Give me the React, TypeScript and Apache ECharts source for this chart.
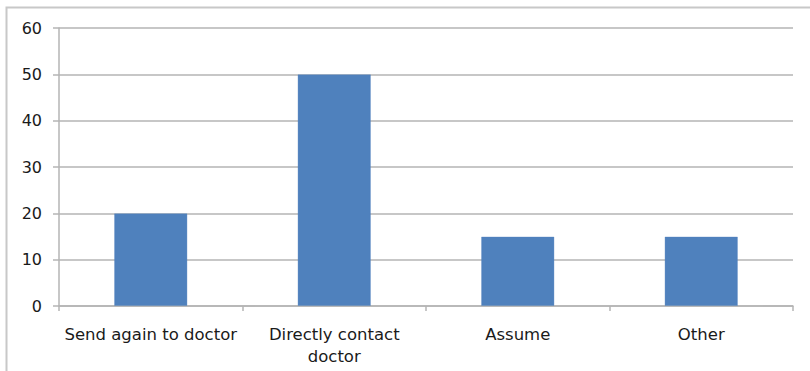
import React, { useEffect, useRef } from "react";
import * as echarts from "echarts";

// Responses per category
const categories: string[] = [
  "Send again to doctor",
  "Directly contact\ndoctor",
  "Assume",
  "Other",
];
const counts: number[] = [20, 50, 15, 15];

// Value axis range
const yMin = 0;
const yMax = 60;
const yStep = 10;

const FONT = "'DejaVu Sans', sans-serif";
const AXIS_GRAY = "#b4b4b4";

export default function App() {
  const ref = useRef<HTMLDivElement>(null);

  useEffect(() => {
    if (!ref.current) return;
    const chart = echarts.init(ref.current, null, { renderer: "svg" });
    chart.setOption({
      animation: false,
      backgroundColor: "#ffffff",
      graphic: [
        {
          type: "rect",
          shape: { x: 6.5, y: 7.5, width: 830, height: 400 },
          style: { fill: "none", stroke: "#c8c8c8", lineWidth: 2 },
          silent: true,
        },
      ],
      grid: { left: 59, right: 17, top: 28, bottom: 65 },
      xAxis: {
        type: "category",
        data: categories,
        axisLine: { show: true, lineStyle: { color: AXIS_GRAY, width: 1.5 } },
        axisTick: { show: true, length: 5, alignWithLabel: false, lineStyle: { color: AXIS_GRAY, width: 1.5 } },
        axisLabel: {
          interval: 0,
          margin: 17,
          color: "#1a1a1a",
          fontFamily: FONT,
          fontSize: 16.5,
          lineHeight: 22,
        },
      },
      yAxis: {
        type: "value",
        min: yMin,
        max: yMax,
        interval: yStep,
        axisLine: { show: true, lineStyle: { color: AXIS_GRAY, width: 1.5 } },
        axisTick: { show: true, length: 6, lineStyle: { color: AXIS_GRAY, width: 1.5 } },
        splitLine: { show: true, lineStyle: { color: AXIS_GRAY, width: 1.5 } },
        axisLabel: {
          margin: 17,
          color: "#1a1a1a",
          fontFamily: FONT,
          fontSize: 16,
        },
      },
      series: [
        {
          type: "bar",
          data: counts,
          barWidth: "40%",
          itemStyle: {
            color: "#4f81bd",
            borderColor: "rgba(79,129,189,0.35)",
            borderWidth: 1,
          },
        },
      ],
    });
    return () => chart.dispose();
  }, []);

  return (
    <div
      ref={ref}
      style={{ position: "absolute", left: 0, top: 0, width: 810, height: 371 }}
    />
  );
}
